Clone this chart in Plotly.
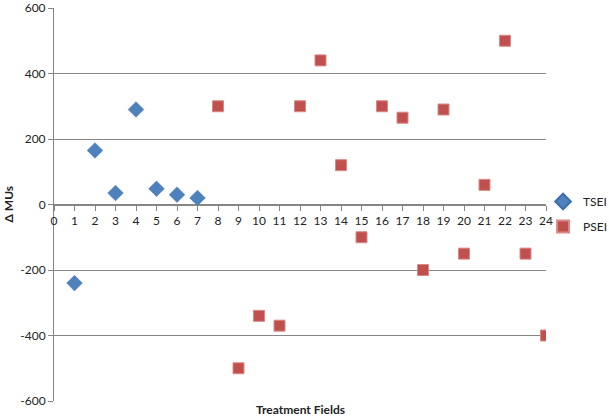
import plotly.graph_objects as go

tsei_x = [1, 2, 3, 4, 5, 6, 7]
tsei_y = [-240, 165, 35, 290, 48, 30, 20]
psei_x = [8, 9, 10, 11, 12, 13, 14, 15, 16, 17, 18, 19, 20, 21, 22, 23, 24]
psei_y = [300, -500, -340, -370, 300, 440, 120, -100, 300, 265, -200, 290, -150, 60, 500, -150, -400]
x_ticks = list(range(0, 25))
y_ticks = list(range(-600, 601, 200))

fig = go.Figure()
fig.add_trace(go.Scatter(x=tsei_x, y=tsei_y, mode="markers", name="TSEI", legendgroup="a",
                         marker=dict(symbol="diamond", size=12, color="#4F81BD",
                                     line=dict(width=0.5, color="#3C6EA8"))))
fig.add_trace(go.Scatter(x=psei_x, y=psei_y, mode="markers", name="PSEI", legendgroup="b",
                         marker=dict(symbol="square", size=11, color="#C0504D",
                                     line=dict(width=1, color="#D98A88"))))

font = "Lato, Liberation Sans, sans-serif"
fig.update_layout(
    width=609, height=416,
    margin=dict(l=54, r=63, t=8, b=15, autoexpand=False),
    paper_bgcolor="white", plot_bgcolor="white",
    font=dict(family=font, size=12, color="#222"),
    showlegend=True,
    legend=dict(x=0.994, y=0.476, xanchor="left", yanchor="middle",
                font=dict(size=12, color="#222"), tracegroupgap=6,
                itemsizing="constant", bgcolor="rgba(0,0,0,0)"),
    xaxis=dict(range=[0, 24], tickvals=x_ticks, ticktext=[str(v) for v in x_ticks],
               showgrid=False, zeroline=False, showline=True, linecolor="#868686",
               linewidth=1, ticks="outside", ticklen=5, tickcolor="#868686",
               anchor="free", position=0.5, automargin=False,
               tickfont=dict(size=12, color="#222")),
    yaxis=dict(range=[-600, 600], tickvals=y_ticks, ticktext=[str(v) for v in y_ticks],
               showgrid=True, gridcolor="#868686", gridwidth=1, zeroline=False,
               showline=True, linecolor="#868686", ticks="outside", ticklen=5,
               tickcolor="#868686", automargin=False, ticklabeloverflow="allow",
               tickfont=dict(size=12, color="#222")),
    annotations=[
        dict(text="<b>Treatment Fields</b>", xref="paper", yref="paper", x=0.5, y=0,
             yshift=1, xanchor="center", yanchor="top", showarrow=False,
             font=dict(size=12, color="#222")),
        dict(text="<b>Δ MUs</b>", xref="paper", yref="paper", x=0, xshift=-46, y=0.5,
             textangle=-90, xanchor="center", yanchor="middle", showarrow=False,
             font=dict(size=12, color="#222")),
    ],
)

fig.write_html("out.html", config={"displayModeBar": False},
               post_script="document.body.style.margin='0';document.body.style.padding='0';")
